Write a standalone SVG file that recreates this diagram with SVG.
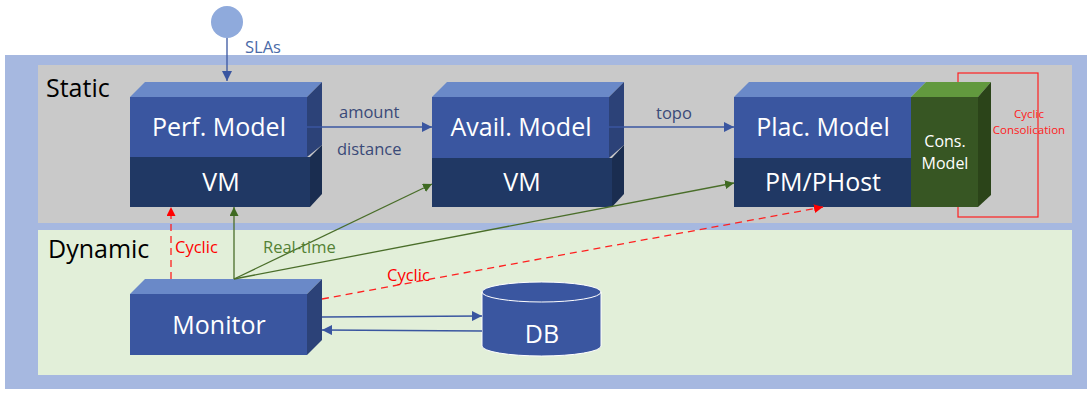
<svg xmlns="http://www.w3.org/2000/svg" width="1089" height="393" viewBox="0 0 1089 393">
<defs>
<style>
text{font-family:"Open Sans","Noto Sans","DejaVu Sans",sans-serif}
.top{fill:#6a89c8}
.front{fill:#3a56a0}
.side{fill:#2c4278}
.low{fill:#203864}
.lowside{fill:#1a2d50}
.w{fill:#ffffff;font-size:25px;text-anchor:middle}
.lbl{fill:#3a4a78;font-size:16.5px}
.blue{stroke:#3a56a0;stroke-width:1.3;fill:none}
.green{stroke:#4a6e2a;stroke-width:1.3;fill:none}
.red{stroke:#ff2020;stroke-width:1.3;fill:none;stroke-dasharray:7,5}
</style>
<marker id="ab" viewBox="0 0 10 10" refX="10" refY="5" markerWidth="10" markerHeight="10" markerUnits="userSpaceOnUse" orient="auto"><path d="M0,0L10,5L0,10z" fill="#3a56a0"/></marker>
<marker id="ag" viewBox="0 0 10 10" refX="10" refY="5" markerWidth="9" markerHeight="9" markerUnits="userSpaceOnUse" orient="auto"><path d="M0,0L10,5L0,10z" fill="#3f6a22"/></marker>
<marker id="ar" viewBox="0 0 10 10" refX="10" refY="5" markerWidth="9" markerHeight="9" markerUnits="userSpaceOnUse" orient="auto"><path d="M0,0L10,5L0,10z" fill="#ff0000"/></marker>
</defs>
<rect x="0" y="0" width="1089" height="393" fill="#ffffff"/>
<g id="frame">
<rect x="5" y="55" width="1082" height="334" fill="#a6b8e0"/>
<rect x="38" y="65" width="1034" height="158" fill="#c9c9c9"/>
<rect x="38" y="230" width="1034" height="145" fill="#e2efd9"/>
<text x="46" y="97" font-size="25" fill="#000">Static</text>
<text x="48" y="258" font-size="25" fill="#000">Dynamic</text>
</g>
<g id="cyclic-consolidation">
<rect x="958" y="73" width="80" height="144" fill="none" stroke="#ff2020" stroke-width="1.2"/>
<text x="1029" y="118" font-size="11.5" fill="#ff2020" text-anchor="middle">Cyclic</text>
<text x="1029" y="134" font-size="11.5" fill="#ff2020" text-anchor="middle">Consolication</text>
</g>
<g id="sla">
<circle cx="227" cy="22" r="16" fill="#8faadc"/>
<text x="245" y="53" font-size="16.5" fill="#4a6aa8">SLAs</text>
</g>
<g id="perf-model">
<polygon class="top" points="130,97 145,82 322,82 307,97"/>
<polygon class="side" points="307,97 322,82 322,145 307,157"/>
<rect class="front" x="130" y="97" width="177" height="60"/>
<polygon class="lowside" points="310,157 322,145 322,194 310,207"/>
<rect class="low" x="130" y="157" width="180" height="50"/>
<text class="w" x="219" y="136">Perf. Model</text>
<text class="w" x="221" y="191">VM</text>
</g>
<g id="avail-model">
<polygon class="top" points="432,97 447,82 624,82 609,97"/>
<polygon class="side" points="609,97 624,82 624,145 609,158"/>
<rect class="front" x="432" y="97" width="177" height="61"/>
<polygon class="lowside" points="612,158 624,145 624,194 612,207"/>
<rect class="low" x="432" y="158" width="180" height="49"/>
<text class="w" x="521" y="136">Avail. Model</text>
<text class="w" x="522" y="191">VM</text>
</g>
<g id="plac-model">
<polygon class="top" points="734,97 749,82 926,82 911,97"/>
<rect class="front" x="734" y="97" width="177" height="61"/>
<rect class="low" x="734" y="158" width="177" height="49"/>
<text class="w" x="823" y="136">Plac. Model</text>
<text class="w" x="823" y="191">PM/PHost</text>
</g>
<g id="cons-model">
<polygon points="911,97 926,82 991,82 978,97" fill="#62993e"/>
<polygon points="978,97 991,82 991,195 978,207" fill="#2b4419"/>
<rect x="911" y="97" width="67" height="110" fill="#375623"/>
<text x="945" y="147" font-size="16" fill="#fff" text-anchor="middle">Cons.</text>
<text x="945" y="169" font-size="16" fill="#fff" text-anchor="middle">Model</text>
</g>
<g id="monitor">
<polygon class="top" points="130,294 145,279 322,279 307,294"/>
<polygon class="side" points="307,294 322,279 322,340 307,355"/>
<rect class="front" x="130" y="294" width="177" height="61"/>
<text class="w" x="219" y="334">Monitor</text>
</g>
<g id="db">
<path d="M482,292 L482,346 A59.5,10 0 0 0 601,346 L601,292 A59.5,10 0 0 0 482,292 Z" fill="#3a56a0" stroke="#ffffff" stroke-width="1"/>
<path d="M482,292 A59.5,10 0 0 0 601,292" fill="none" stroke="#ffffff" stroke-width="1"/>
<text class="w" x="542" y="343">DB</text>
</g>
<g id="connectors">
<line class="blue" x1="227" y1="38" x2="227" y2="81" marker-end="url(#ab)"/>
<line class="blue" x1="307" y1="127" x2="432" y2="127" marker-end="url(#ab)"/>
<line class="blue" x1="609" y1="127" x2="734" y2="127" marker-end="url(#ab)"/>
<line class="blue" x1="322" y1="317" x2="482" y2="316" stroke="#5a78b4" marker-end="url(#ab)"/>
<line class="blue" x1="482" y1="331" x2="322" y2="330" stroke="#5a78b4" marker-end="url(#ab)"/>
<line class="green" x1="234" y1="279" x2="234" y2="207" marker-end="url(#ag)"/>
<line class="green" x1="234" y1="279" x2="432" y2="184" marker-end="url(#ag)"/>
<line class="green" x1="234" y1="279" x2="734" y2="183" marker-end="url(#ag)"/>
<line class="red" x1="171" y1="279" x2="171" y2="207" marker-end="url(#ar)"/>
<line class="red" x1="322" y1="299" x2="823" y2="207" marker-end="url(#ar)"/>
<text x="339" y="118" class="lbl">amount</text>
<text x="337" y="155" class="lbl">distance</text>
<text x="656" y="119" class="lbl">topo</text>
<text x="263" y="253" font-size="16.5" fill="#548235">Real-time</text>
<text x="175" y="253" font-size="16.5" fill="#ff0000">Cyclic</text>
<text x="387" y="281" font-size="16.5" fill="#ff0000">Cyclic</text>
</g>
</svg>
